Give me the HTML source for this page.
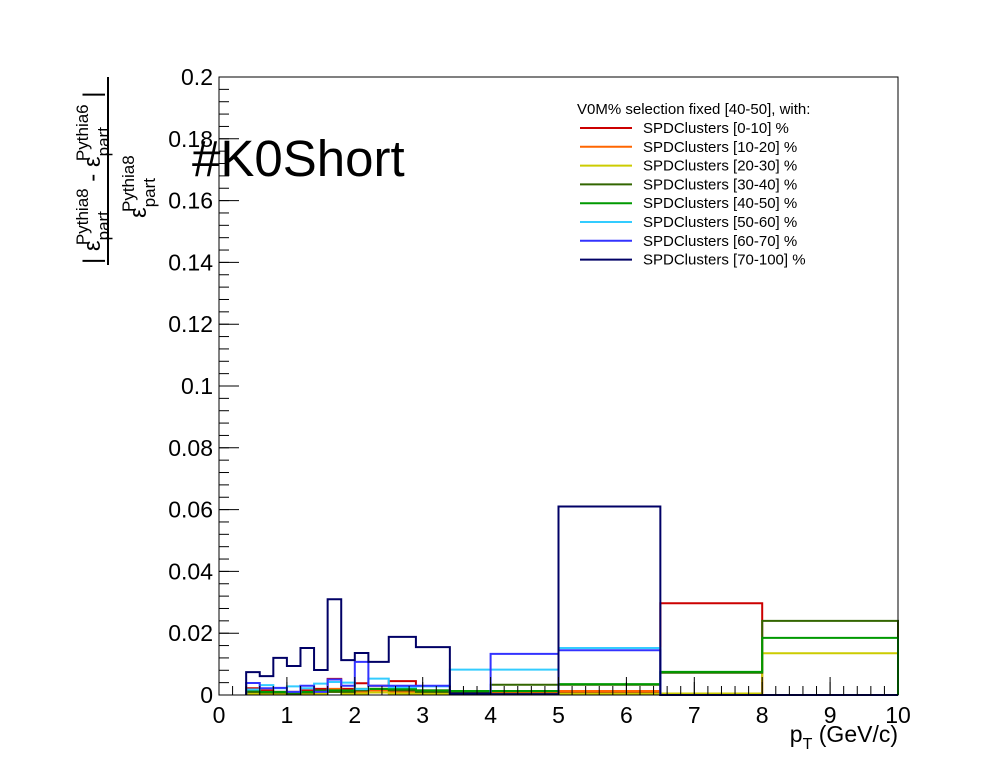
<!DOCTYPE html>
<html><head><meta charset="utf-8"><style>
html,body{margin:0;padding:0;background:#fff}
svg{display:block;font-family:"Liberation Sans",sans-serif}
</style></head><body>
<svg id="chart" width="998" height="773" viewBox="0 0 998 773">
<rect x="0" y="0" width="998" height="773" fill="#fff"/>
<g id="hists"></g>
<rect x="219" y="77" width="679" height="618" fill="none" stroke="#000" stroke-width="1"/>
<g id="axes"></g>
<text x="192" y="176" font-size="51">#K0Short</text>
<text x="898" y="742" font-size="23" text-anchor="end">p<tspan font-size="16" dy="7">T</tspan><tspan dy="-7"> (GeV/c)</tspan></text>
<g>
<line x1="108" y1="77" x2="108" y2="265" stroke="#000" stroke-width="2"/>
<text transform="translate(100,264) rotate(-90)" font-size="24">| ε<tspan font-size="17" dy="9">part</tspan><tspan font-size="17" dx="-34" dy="-21">Pythia8</tspan><tspan dy="12"> - ε</tspan><tspan font-size="17" dy="9">part</tspan><tspan font-size="17" dx="-34" dy="-21">Pythia6</tspan><tspan dy="12"> |</tspan></text>
<text transform="translate(146,218) rotate(-90)" font-size="24">ε<tspan font-size="17" dy="9">part</tspan><tspan font-size="17" dx="-34" dy="-21">Pythia8</tspan></text>
</g>
<g id="legend">
<text x="577" y="114" font-size="15">V0M% selection fixed [40-50], with:</text>
</g>
</svg>
<script>
const edges=[0.4,0.6,0.8,1.0,1.2,1.4,1.6,1.8,2.0,2.2,2.5,2.9,3.4,4.0,5.0,6.5,8.0,10];
const seriesNames=["SPDClusters [0-10] %","SPDClusters [10-20] %","SPDClusters [20-30] %","SPDClusters [30-40] %","SPDClusters [40-50] %","SPDClusters [50-60] %","SPDClusters [60-70] %","SPDClusters [70-100] %"];
const seriesColors=["#cc0000","#ff6600","#cccc00","#336600","#009900","#33ccff","#3333ff","#000066"];
const s0=[0.0022,0.0015,0.001,0.001,0.0015,0.002,0.0052,0.002,0.0038,0.003,0.0045,0.0015,0.001,0.001,0.001,0.0297,0];
const s1=[0.001,0.0008,0.0005,0.0005,0.0008,0.001,0.002,0.001,0.001,0.0015,0.001,0.001,0.0005,0.0005,0.0013,0,0];
const s2=[0.0005,0.0003,0.0003,0.0003,0.0005,0.0005,0.001,0.0005,0.0005,0.0008,0.0005,0.0005,0.0003,0.0005,0.0005,0.0005,0.0135];
const s3=[0.001,0.0008,0.0008,0.0005,0.0008,0.0015,0.001,0.001,0.0015,0.002,0.0015,0.001,0.0008,0.0033,0.0033,0.0072,0.024];
const s4=[0.0015,0.001,0.001,0.0008,0.001,0.0012,0.0015,0.0015,0.002,0.002,0.002,0.0015,0.0013,0.0013,0.0035,0.0075,0.0185];
const s5=[0.0018,0.0032,0.0022,0.0028,0.0022,0.0037,0.0042,0.004,0.0019,0.0053,0.0025,0.0028,0.0082,0.0082,0.0152,0,0];
const s6=[0.0039,0.0022,0.0023,0.001,0.003,0.001,0.005,0.003,0.0107,0.003,0.003,0.003,0.0005,0.0133,0.0145,0,0];
const s7=[0.0074,0.0061,0.012,0.0094,0.0152,0.0081,0.031,0.0113,0.0136,0.0107,0.0188,0.0155,0.0005,0.0003,0.061,0,0];
const series=[s0,s1,s2,s3,s4,s5,s6,s7];
const xTicks=[0,1,2,3,4,5,6,7,8,9,10];
const yTicks=[0,0.02,0.04,0.06,0.08,0.1,0.12,0.14,0.16,0.18,0.2];
const yTickLabels=["0","0.02","0.04","0.06","0.08","0.1","0.12","0.14","0.16","0.18","0.2"];
const X=v=>219+v*67.9, Y=v=>695-v*3090;
const NS="http://www.w3.org/2000/svg";
function mk(t,a,p){const e=document.createElementNS(NS,t);for(const k in a)e.setAttribute(k,a[k]);p.appendChild(e);return e;}
const hg=document.getElementById('hists');
series.forEach((s,i)=>{
  let d="M"+X(edges[0])+","+Y(0);
  s.forEach((v,j)=>{d+=" L"+X(edges[j])+","+Y(v)+" L"+X(edges[j+1])+","+Y(v);});
  d+=" L"+X(edges[edges.length-1])+","+Y(0);
  const p=mk('path',{d:d,fill:"none",stroke:seriesColors[i],"stroke-width":2},hg);
  
  
});
const ax=document.getElementById('axes');
xTicks.forEach(v=>{
  mk('line',{x1:X(v),y1:695,x2:X(v),y2:677,stroke:"#000"},ax);
  const t=mk('text',{x:X(v),y:723,"font-size":23,"text-anchor":"middle"},ax);t.textContent=v;
  
  
});
for(let v=0;v<=10.001;v+=0.2){const h=Math.abs(v*2-Math.round(v*2))<0.01?13:9;mk('line',{x1:X(v),y1:695,x2:X(v),y2:695-h,stroke:"#000"},ax);}
yTicks.forEach((v,i)=>{
  mk('line',{x1:219,y1:Y(v),x2:239,y2:Y(v),stroke:"#000"},ax);
  const t=mk('text',{x:213,y:Y(v)+8,"font-size":23,"text-anchor":"end"},ax);t.textContent=yTickLabels[i];
  
  
});
for(let v=0;v<=0.2001;v+=0.004){mk('line',{x1:219,y1:Y(v),x2:229,y2:Y(v),stroke:"#000"},ax);}
const lg=document.getElementById('legend');
seriesNames.forEach((n,i)=>{
  const y=128+i*18.8;
  const g=mk('g',{},lg);
  
  
  mk('line',{x1:580,y1:y,x2:632,y2:y,stroke:seriesColors[i],"stroke-width":2},g);
  const t=mk('text',{x:643,y:y+5,"font-size":15},g);t.textContent=n;
});
</script>
</body></html>
